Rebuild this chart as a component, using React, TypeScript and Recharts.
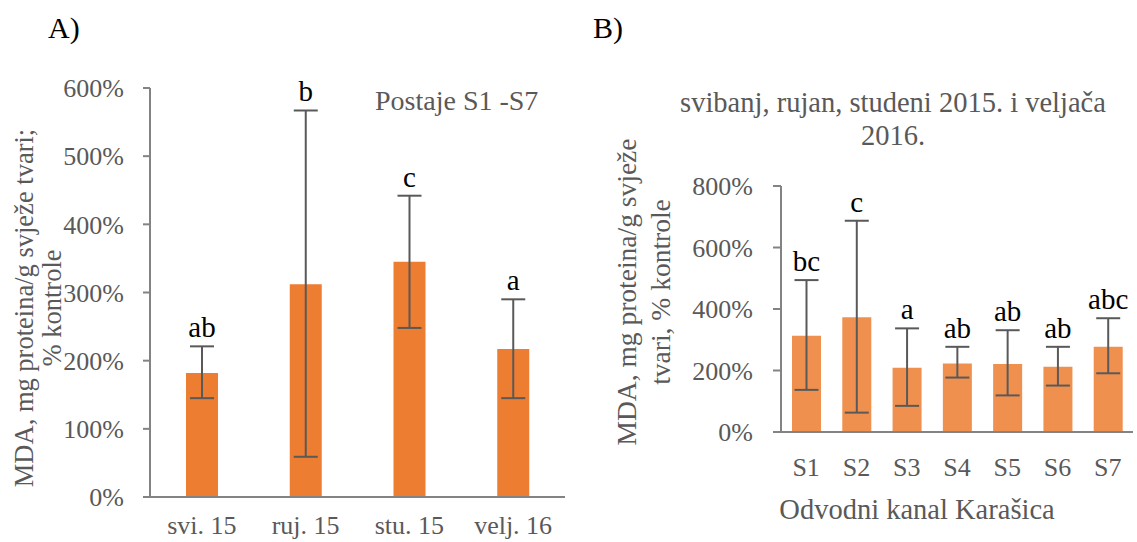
import React from "react";
import { BarChart, Bar, XAxis, YAxis, ErrorBar, LabelList } from "recharts";

// Panel A - po mjesecima (postaje S1-S7)
const monthCats = ["svi. 15", "ruj. 15", "stu. 15", "velj. 16"];
const monthMean = [182, 312, 345, 217];
const monthLow = [145, 59, 248, 145];
const monthHigh = [221, 567, 442, 290];
const monthLetters = ["ab", "b", "c", "a"];

// Panel B - po postajama
const siteCats = ["S1", "S2", "S3", "S4", "S5", "S6", "S7"];
const siteMean = [313, 373, 209, 223, 221, 212, 277];
const siteLow = [137, 63, 85, 177, 119, 151, 191];
const siteHigh = [494, 687, 337, 277, 331, 277, 370];
const siteLetters = ["bc", "c", "a", "ab", "ab", "ab", "abc"];

const ticksA = [0, 100, 200, 300, 400, 500, 600];
const ticksB = [0, 200, 400, 600, 800];

const FONT = "'Liberation Serif', 'Times New Roman', serif";
const GREY = "#595959";
const AXIS = "#838383";

const build = (cats: string[], mean: number[], low: number[], high: number[], letters: string[]) =>
  cats.map((c, i) => ({
    name: c,
    value: mean[i],
    err: [mean[i] - low[i], high[i] - mean[i]],
    high: high[i],
    letter: letters[i],
  }));

const dataA = build(monthCats, monthMean, monthLow, monthHigh, monthLetters);
const dataB = build(siteCats, siteMean, siteLow, siteHigh, siteLetters);

// letter sits just above the top of the error bar
function letterLabel(rows: any[]) {
  return (props: any) => {
    const { x, y, width, height, index } = props;
    const row = rows[index];
    const perUnit = height / row.value;
    const top = y - (row.high - row.value) * perUnit;
    return (
      <text
        x={x + width / 2}
        y={top - 9}
        textAnchor="middle"
        style={{ fontFamily: FONT, fontSize: 29 }}
        fill="#000"
      >
        {row.letter}
      </text>
    );
  };
}

const tickStyle = { fontSize: 26, fill: GREY, fontFamily: FONT, style: { fontFamily: FONT } };
const txt = (size: number) => ({ fontFamily: FONT, fontSize: size });

export default function App() {
  return (
    <div
      style={{
        position: "absolute",
        left: 0,
        top: 0,
        width: 1137,
        height: 542,
        background: "#fff",
        fontFamily: FONT,
        overflow: "hidden",
      }}
    >
      <div style={{ position: "absolute", left: 0, top: 0 }}>
        <BarChart width={580} height={542} data={dataA} margin={{ top: 88, right: 15, bottom: 0, left: 0 }}>
          <XAxis
            dataKey="name"
            height={45}
            tickLine={false}
            tickSize={0}
            tickMargin={19}
            axisLine={{ stroke: AXIS, strokeWidth: 2 }}
            tick={tickStyle}
          />
          <YAxis
            width={150}
            domain={[0, 600]}
            ticks={ticksA}
            tickFormatter={(v) => `${v}%`}
            tickSize={7}
            tickMargin={19}
            tickLine={{ stroke: AXIS, strokeWidth: 2 }}
            axisLine={{ stroke: AXIS, strokeWidth: 2 }}
            tick={tickStyle}
          />
          <Bar dataKey="value" fill="#ED7D31" barSize={32} isAnimationActive={false}>
            <ErrorBar dataKey="err" width={12} stroke={GREY} strokeWidth={2} direction="y" />
            <LabelList dataKey="letter" content={letterLabel(dataA)} />
          </Bar>
        </BarChart>
      </div>

      <div style={{ position: "absolute", left: 580, top: 0 }}>
        <BarChart width={557} height={542} data={dataB} margin={{ top: 186, right: 4, bottom: 0, left: 0 }}>
          <XAxis
            dataKey="name"
            height={110}
            tickLine={false}
            tickSize={0}
            tickMargin={26}
            axisLine={{ stroke: AXIS, strokeWidth: 2 }}
            tick={tickStyle}
          />
          <YAxis
            width={201}
            domain={[0, 800]}
            ticks={ticksB}
            tickFormatter={(v) => `${v}%`}
            tickSize={8}
            tickMargin={20}
            tickLine={{ stroke: AXIS, strokeWidth: 2 }}
            axisLine={{ stroke: AXIS, strokeWidth: 2 }}
            tick={tickStyle}
          />
          <Bar dataKey="value" fill="#F0904F" barSize={29} isAnimationActive={false}>
            <ErrorBar dataKey="err" width={12} stroke={GREY} strokeWidth={2} direction="y" />
            <LabelList dataKey="letter" content={letterLabel(dataB)} />
          </Bar>
        </BarChart>
      </div>

      {/* titles and axis captions */}
      <svg width={1137} height={542} style={{ position: "absolute", left: 0, top: 0, pointerEvents: "none" }}>
        <text x={48} y={38} style={txt(30)} fill="#000">A)</text>
        <text x={593} y={38} style={txt(30)} fill="#000">B)</text>
        <text x={375} y={110} style={txt(28)} fill={GREY}>Postaje S1 -S7</text>

        <g transform="translate(24,308) rotate(-90)">
          <text textAnchor="middle" dominantBaseline="central" style={txt(26.5)} fill={GREY}>
            MDA, mg proteina/g svježe tvari;
          </text>
        </g>
        <g transform="translate(52,308) rotate(-90)">
          <text textAnchor="middle" dominantBaseline="central" style={txt(26.5)} fill={GREY}>
            % kontrole
          </text>
        </g>

        <text x={893} y={112} textAnchor="middle" style={txt(28.5)} fill={GREY}>
          svibanj, rujan, studeni 2015. i veljača
        </text>
        <text x={893} y={145} textAnchor="middle" style={txt(28.5)} fill={GREY}>
          2016.
        </text>

        <g transform="translate(626,292) rotate(-90)">
          <text textAnchor="middle" dominantBaseline="central" style={txt(27.5)} fill={GREY}>
            MDA, mg proteina/g svježe
          </text>
        </g>
        <g transform="translate(660,292) rotate(-90)">
          <text textAnchor="middle" dominantBaseline="central" style={txt(27.5)} fill={GREY}>
            tvari, % kontrole
          </text>
        </g>

        <text x={917} y={519} textAnchor="middle" style={txt(28.5)} fill={GREY}>
          Odvodni kanal Karašica
        </text>
      </svg>
    </div>
  );
}
